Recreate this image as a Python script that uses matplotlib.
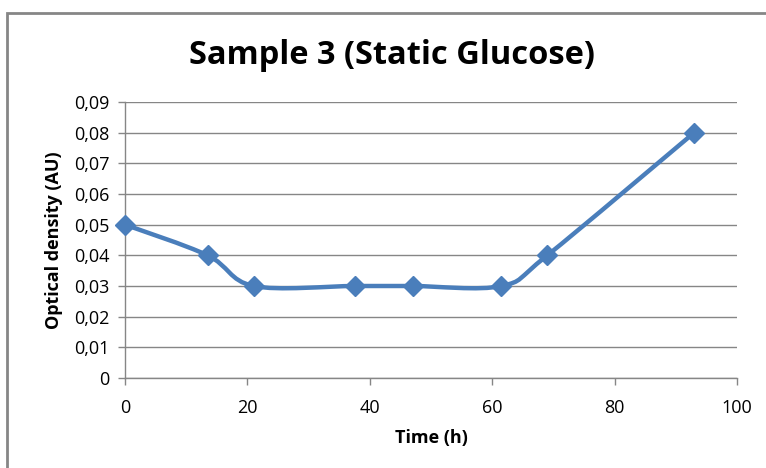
import numpy as np
import matplotlib.pyplot as plt
from matplotlib.path import Path
from matplotlib.patches import PathPatch, Rectangle

# sample 3, static glucose
time_h = [0, 13.5, 21, 37.5, 47, 61.5, 69, 93]
od = [0.05, 0.04, 0.03, 0.03, 0.03, 0.03, 0.04, 0.08]

xticks = [0, 20, 40, 60, 80, 100]
yticks = [0, 0.01, 0.02, 0.03, 0.04, 0.05, 0.06, 0.07, 0.08, 0.09]
ylabels = ['0' if v == 0 else ('%.2f' % v).replace('.', ',') for v in yticks]

blue = '#4a7ebb'
grey = '#868686'


def smooth_path(x, y):
    # cubic bezier through the points (catmull-rom style control points)
    p = np.column_stack([x, y]).astype(float)
    n = len(p)
    verts = [p[0]]
    codes = [Path.MOVETO]
    for i in range(n - 1):
        p0 = p[i - 1] if i > 0 else p[i]
        p3 = p[i + 2] if i + 2 < n else p[i + 1]
        c1 = p[i] + (p[i + 1] - p0) / 6.0
        c2 = p[i + 1] - (p3 - p[i]) / 6.0
        verts += [c1, c2, p[i + 1]]
        codes += [Path.CURVE4] * 3
    return Path(verts, codes)


fig = plt.figure(figsize=(7.66, 4.68), dpi=100)
plt.rcParams['font.family'] = ['Open Sans', 'DejaVu Sans']

# outer chart frame
fig.patches.append(Rectangle((6.5 / 766, -0.1), 1.2, 1 - 12.5 / 468 + 0.1,
                             transform=fig.transFigure, fill=False,
                             edgecolor=grey, lw=2))

ax = fig.add_axes([125 / 766, 1 - 378 / 468, 612 / 766, 276 / 468])
ax.set_xlim(0, 100)
ax.set_ylim(0, 0.09)
ax.set_xticks(xticks)
ax.set_yticks(yticks)
ax.set_yticklabels(ylabels)
ax.grid(axis='y', color=grey, lw=1)
ax.set_axisbelow(True)
for s in ['top', 'right']:
    ax.spines[s].set_visible(False)
for s in ['left', 'bottom']:
    ax.spines[s].set_color(grey)
    ax.spines[s].set_linewidth(1)
ax.tick_params(color=grey, length=5, width=1, labelsize=13, labelcolor='black', pad=6)
ax.tick_params(axis='x', pad=10)

ax.add_patch(PathPatch(smooth_path(time_h, od), facecolor='none',
                       edgecolor=blue, lw=3.2, zorder=3, clip_on=False))
ax.plot(time_h, od, linestyle='none', marker='D', markersize=10.5,
        color=blue, zorder=4, clip_on=False)

ax.set_xlabel('Time (h)', fontsize=13, fontweight='bold', labelpad=9)
ax.set_ylabel('Optical density (AU)', fontsize=13, fontweight='bold', labelpad=8)
fig.text(392 / 766, 1 - 55 / 468, 'Sample 3 (Static Glucose)', ha='center',
         va='center', fontsize=23.5, fontweight='bold')

fig.savefig('out.png', dpi=100)
